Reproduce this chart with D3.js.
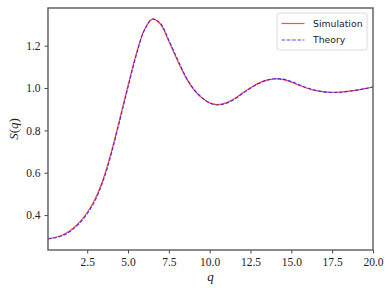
<!DOCTYPE html>
<html>
<head>
<meta charset="utf-8">
<script src="https://cdn.jsdelivr.net/npm/d3@7"></script>
<style>
  body { margin: 0; background: #fff; }
  svg { display: block; }
</style>
</head>
<body>
<div id="chart"></div>
<script>
// values
var qValues = [0.1, 0.5, 1.0, 1.5, 2.0, 2.5, 3.0, 3.5, 4.0, 4.5, 5.0, 5.5, 6.0, 6.5, 7.0,
  7.5, 8.0, 8.5, 9.0, 9.5, 10.0, 10.5, 11.0, 11.5, 12.0, 12.5, 13.0, 13.5, 14.0, 14.5,
  15.0, 15.5, 16.0, 16.5, 17.0, 17.5, 18.0, 18.5, 19.0, 19.5, 20.0];
var simulation = [0.289, 0.294, 0.306, 0.329, 0.364, 0.412, 0.478, 0.575, 0.705, 0.857, 1.012, 1.16, 1.275, 1.325, 1.30,
  1.22, 1.135, 1.055, 0.995, 0.955, 0.93, 0.922, 0.93, 0.949, 0.976, 1.001, 1.023, 1.037, 1.043, 1.04,
  1.028, 1.012, 0.998, 0.988, 0.982, 0.980, 0.981, 0.985, 0.99, 0.997, 1.005];
var theory = [0.287, 0.292, 0.303, 0.325, 0.359, 0.406, 0.471, 0.566, 0.695, 0.847, 1.003, 1.153, 1.272, 1.326, 1.304,
  1.226, 1.141, 1.06, 0.998, 0.956, 0.929, 0.92, 0.927, 0.946, 0.973, 0.999, 1.021, 1.037, 1.044, 1.042,
  1.031, 1.015, 1.0, 0.989, 0.982, 0.979, 0.980, 0.984, 0.99, 0.997, 1.005];
var xTicks = [2.5, 5.0, 7.5, 10.0, 12.5, 15.0, 17.5, 20.0];
var yTicks = [0.4, 0.6, 0.8, 1.0, 1.2];
var seriesNames = ["Simulation", "Theory"];

var svgWidth = 391;
var svgHeight = 293;
var margin = { top: 8, right: 18, bottom: 43, left: 48 };
var width = svgWidth - margin.left - margin.right;
var height = svgHeight - margin.top - margin.bottom;

var svg = d3.select("#chart")
  .append("svg")
  .attr("width", svgWidth)
  .attr("height", svgHeight);

var chartGroup = svg.append("g")
  .attr("transform", `translate(${margin.left}, ${margin.top})`);

var simData = qValues.map((q, i) => ({ q: q, s: simulation[i] }));
var thData = qValues.map((q, i) => ({ q: q, s: theory[i] }));

// matplotlib-style 5% y padding
var yMin = d3.min(simulation.concat(theory));
var yMax = d3.max(simulation.concat(theory));
var pad = (yMax - yMin) * 0.05;

var xScale = d3.scaleLinear().domain([d3.min(qValues), 20]).range([0, width]);
var yScale = d3.scaleLinear().domain([yMin - pad, yMax + pad]).range([height, 0]);

var tickFont = "'Liberation Serif', serif";

// axes
var bottomAxis = d3.axisBottom(xScale).tickValues(xTicks).tickFormat(d3.format(".1f"))
  .tickSize(3.5).tickPadding(4);
var leftAxis = d3.axisLeft(yScale).tickValues(yTicks).tickFormat(d3.format(".1f"))
  .tickSize(3.5).tickPadding(4);

var xg = chartGroup.append("g")
  .attr("transform", `translate(0, ${height})`)
  .call(bottomAxis);
var yg = chartGroup.append("g").call(leftAxis);

[xg, yg].forEach(function(g) {
  g.select(".domain").remove();
  g.selectAll(".tick line").attr("stroke", "#333").attr("stroke-width", 0.9);
  g.selectAll(".tick text")
    .attr("fill", "#222")
    .style("font-family", tickFont)
    .style("font-size", "11.5px");
});

// lines
var line = d3.line()
  .x(d => xScale(d.q))
  .y(d => yScale(d.s))
  .curve(d3.curveCatmullRom.alpha(0.5));

var colors = ["#ff0000", "#0000ff"];

chartGroup.append("path")
  .datum(simData)
  .attr("fill", "none")
  .attr("stroke", colors[0])
  .attr("stroke-opacity", 0.7)
  .attr("stroke-width", 1.2)
  .attr("d", line);

chartGroup.append("path")
  .datum(thData)
  .attr("fill", "none")
  .attr("stroke", colors[1])
  .attr("stroke-opacity", 0.7)
  .attr("stroke-width", 1.1)
  .attr("stroke-dasharray", "3.7,1.6")
  .attr("d", line);

// frame
chartGroup.append("rect")
  .attr("x", 0).attr("y", 0)
  .attr("width", width).attr("height", height)
  .attr("fill", "none")
  .attr("stroke", "#5a5a5a")
  .attr("stroke-width", 1.4);

// axis labels
chartGroup.append("text")
  .attr("x", width / 2)
  .attr("y", height + 31)
  .attr("text-anchor", "middle")
  .style("font-family", tickFont)
  .style("font-style", "italic")
  .style("font-size", "13px")
  .attr("fill", "#222")
  .text("q");

chartGroup.append("text")
  .attr("transform", `translate(${-margin.left + 18}, ${height / 2}) rotate(-90)`)
  .attr("text-anchor", "middle")
  .style("font-family", tickFont)
  .style("font-size", "13px")
  .attr("fill", "#222")
  .html("<tspan font-style='italic'>S</tspan>(<tspan font-style='italic'>q</tspan>)");

// legend
var legend = chartGroup.append("g")
  .attr("transform", `translate(${width - 96}, 5)`);

legend.append("rect")
  .attr("width", 90).attr("height", 37)
  .attr("rx", 2.5)
  .attr("fill", "#fff")
  .attr("fill-opacity", 0.8)
  .attr("stroke", "#d6d6d6")
  .attr("stroke-width", 0.9);

seriesNames.forEach(function(name, i) {
  var y = 10.5 + i * 16.5;
  legend.append("line")
    .attr("x1", 4.5).attr("x2", 27.5)
    .attr("y1", y).attr("y2", y)
    .attr("stroke", colors[i])
    .attr("stroke-opacity", 0.7)
    .attr("stroke-width", 1.2)
    .attr("stroke-dasharray", i === 1 ? "3.7,1.6" : null);
  legend.append("text")
    .attr("x", 36)
    .attr("y", y + 3.4)
    .style("font-family", "'DejaVu Sans', sans-serif")
    .style("font-size", "9.3px")
    .attr("fill", "#222")
    .text(name);
});
</script>
</body>
</html>
